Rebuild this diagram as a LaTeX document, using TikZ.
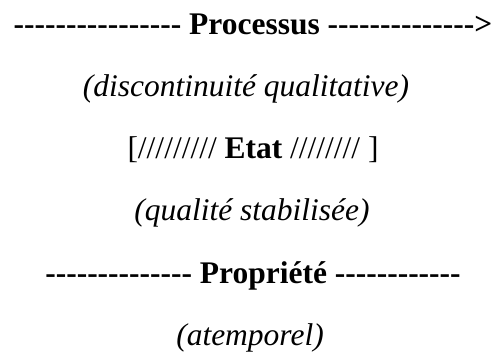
\documentclass[tikz,border=0pt]{standalone}
\usepackage{fontspec}
\newfontfamily\tnr{Liberation Serif}
\begin{document}
\begin{tikzpicture}[x=1bp,y=1bp,
  txt/.style={inner sep=0pt, anchor=base, font=\tnr\fontsize{31.6}{36}\selectfont},
  head/.style={txt, font=\tnr\fontsize{31.6}{36}\selectfont\bfseries},
  note/.style={txt, font=\tnr\fontsize{31.6}{36}\selectfont\itshape}]
\useasboundingbox (0,0) rectangle (496,356);
\node[head] (proc) at (253,{356-34}) {---------------- Processus -------------->};
\node[note] (disc) at (246,{356-96}) {(discontinuité qualitative)};
\node[txt] (etat) at (253,{356-158}) {[///////// \textbf{Etat} //////// ]};
\node[note] (qual) at (252,{356-220}) {(qualité stabilisée)};
\node[head] (prop) at (253,{356-283}) {-------------- Propriété ------------};
\node[note] (atem) at (250,{356-345}) {(atemporel)};
\end{tikzpicture}
\end{document}
